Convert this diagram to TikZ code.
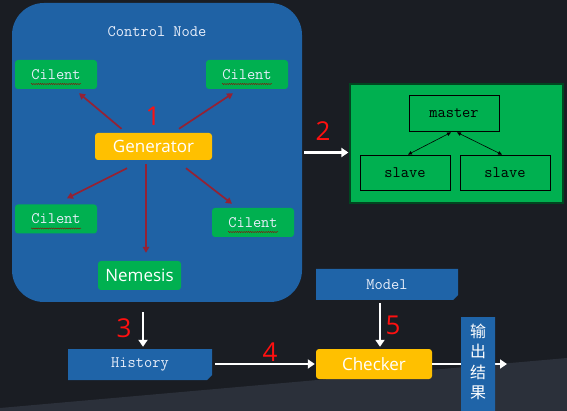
\documentclass[tikz,border=0pt]{standalone}
\usepackage{fontspec}
\setmainfont{Open Sans}
\newfontfamily\cjkf{Noto Sans CJK SC}
\usetikzlibrary{arrows.meta,shapes.misc,calc,decorations.pathmorphing}
\definecolor{bg}{HTML}{1A1D23}
\definecolor{bgl}{HTML}{2B303A}
\definecolor{ctrlc}{HTML}{1F62A5}
\definecolor{grn}{HTML}{00B050}
\definecolor{yel}{HTML}{FFC000}
\definecolor{darr}{HTML}{942234}
\definecolor{boxb}{HTML}{1F64A8}
\definecolor{numred}{HTML}{FF1010}
\definecolor{lighttxt}{HTML}{E8EEFA}
\newcommand\wavebelow[1]{\draw[wavyline] ($(#1.center)+(-25,9.5)$) -- ++(50,0);}
\tikzset{
  mono/.style={font=\ttfamily\fontsize{16}{18}\selectfont},
  client/.style={fill=grn, rounded corners=3pt, minimum width=82pt, minimum height=29pt, inner sep=0pt, mono, text=lighttxt},
  sansbox/.style={rounded corners=3pt, inner sep=0pt, text=white, font=\fontsize{17}{19}\selectfont},
  plainbox/.style={draw=black, line width=0.8pt, minimum width=90pt, minimum height=35pt, inner sep=0pt, mono, text=black},
  bluebox/.style={chamfered rectangle, chamfered rectangle corners=south east, chamfered rectangle xsep=2.5pt, chamfered rectangle ysep=2.5pt, fill=boxb, inner sep=0pt, mono, text=lighttxt},
  redarr/.style={draw=darr, line width=1.7pt, -{Triangle[length=6pt,width=6.5pt]}},
  warr/.style={draw=white, line width=2.5pt, -{Triangle[length=7pt,width=9pt]}},
  barr/.style={draw=black, line width=0.6pt, {Triangle[length=4pt,width=3.5pt]}-{Triangle[length=4pt,width=3.5pt]}},
  num/.style={text=numred, font=\fontsize{26}{28}\selectfont, inner sep=0pt},
  wavyline/.style={draw=red!60!black, line width=0.35pt, decorate, decoration={snake, amplitude=0.6pt, segment length=2.2pt}}
}
\begin{document}
\begin{tikzpicture}[x=1pt,y=-1pt]
\useasboundingbox (0,0) rectangle (567,411);
\fill[bg] (0,0) rectangle (567,411);
\fill[bgl] (0,408) -- (567,358) -- (567,411) -- (0,411) -- cycle;

% control node
\node[fill=ctrlc, rounded corners=32pt, minimum width=290pt, minimum height=299pt, inner sep=0pt] (ctrl) at (157,152.5) {};
\node[mono, text=lighttxt] (ctrltitle) at (157,32) {Control Node};
\node[client] (c1) at (56,74.5) {Cilent};
\node[client] (c2) at (247,74.5) {Cilent};
\node[client] (c3) at (56,219) {Cilent};
\node[client] (c4) at (253,222.5) {Cilent};
\wavebelow{c1}
\wavebelow{c2}
\wavebelow{c3}
\wavebelow{c4}
\node[sansbox, fill=grn, minimum width=83pt, minimum height=29pt] (nem) at (139.5,275.5) {Nemesis};
\node[sansbox, fill=yel, minimum width=117pt, minimum height=27pt] (gen) at (153.5,146.5) {Generator};
\node[num] (n1) at (153,116) {1};

\draw[redarr] ($(gen.north)+(-32,-4)$) -- ($(c1.south)+(23,4)$);
\draw[redarr] ($(gen.north)+(25.5,-4)$) -- ($(c2.south)+(-14,4)$);
\draw[redarr] ($(gen.south)+(-26.5,8)$) -- ($(c3.north)+(11,-6)$);
\draw[redarr] ($(gen.south)+(-7.5,4)$) -- ($(nem.north)+(6.5,-8)$);
\draw[redarr] ($(gen.south)+(32.5,8)$) -- ($(c4.north)+(-21,-4)$);

% cluster
\node[fill=grn, draw=black!60!grn, line width=1.2pt, minimum width=213pt, minimum height=119pt, inner sep=0pt] (cluster) at (456.5,143.5) {};
\node[plainbox, minimum height=36pt] (master) at (454,113) {master};
\node[plainbox] (s1) at (405,172.5) {slave};
\node[plainbox] (s2) at (505,172.5) {slave};
\draw[barr] ($(master.south)+(-3,1)$) -- ($(s1.north)+(3,0)$);
\draw[barr] ($(master.south)+(3,1)$) -- ($(s2.north)+(-3,0)$);

\draw[warr] ($(ctrl.east)+(2,0)$) -- ($(ctrl.east -| cluster.west)+(-1,0)$);
\node[num] (n2) at (323,131) {2};

% bottom flow
\node[bluebox, minimum width=142pt, minimum height=31pt] (model) at (387,284.5) {Model};
\node[bluebox, minimum width=144pt, minimum height=31pt] (hist) at (140,364.5) {History};
\node[sansbox, fill=yel, minimum width=116pt, minimum height=30pt] (checker) at (374,364) {Checker};
\coordinate (outend) at (507,364);
\draw[warr] (checker.east) -- (outend);
\node[bluebox, minimum width=34pt, minimum height=94pt] (outbox) at (478,364) {};
\node[text=white, font=\cjkf\fontsize{16}{20.5}\selectfont, align=center, inner sep=0pt] (outtxt) at (478,362) {输\\出\\结\\果};

\draw[warr] ($(hist.north |- ctrl.south)+(3,10)$) -- ($(hist.north)+(3,-2)$);
\node[num] (n3) at (124,328) {3};
\draw[warr] ($(hist.east |- checker.west)+(3,0)$) -- ($(checker.west)+(-1,0)$);
\node[num] (n4) at (270,352) {4};
\draw[warr] ($(model.south)+(-7,3)$) -- ($(checker.north)+(6,-2)$);
\node[num] (n5) at (393,325) {5};
\end{tikzpicture}
\end{document}
